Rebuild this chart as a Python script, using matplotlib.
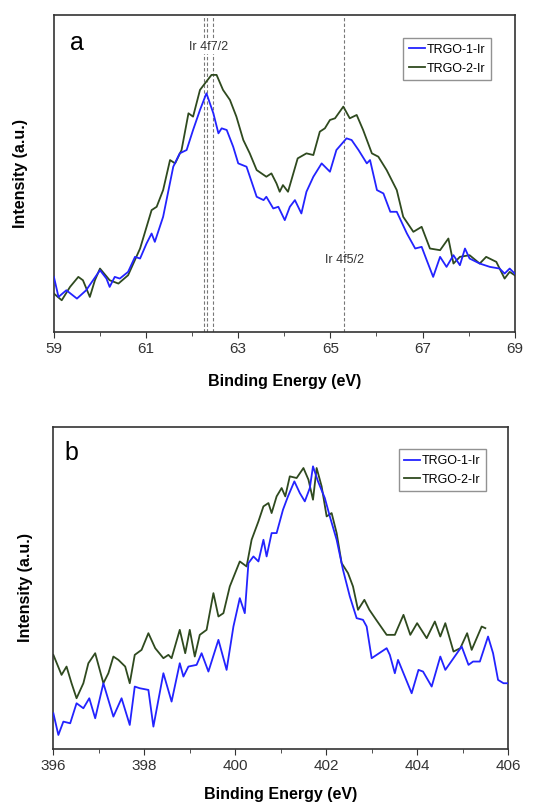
import numpy as np
import matplotlib
matplotlib.use("Agg")
import matplotlib.pyplot as plt
from matplotlib.ticker import MultipleLocator, NullLocator

# panel a: Ir 4f region
a_x1 = [59.0, 59.1, 59.27, 59.5, 59.7, 59.85, 60.0, 60.14, 60.21, 60.32, 60.43, 60.61, 60.76,
        60.87, 61.01, 61.12, 61.19, 61.37, 61.59, 61.73, 61.88, 62.02, 62.17, 62.31, 62.46,
        62.57, 62.64, 62.75, 62.89, 63.0, 63.18, 63.4, 63.55, 63.61, 63.76, 63.87, 64.01,
        64.12, 64.23, 64.37, 64.48, 64.63, 64.81, 64.99, 65.13, 65.35, 65.46, 65.61, 65.79,
        65.86, 66.01, 66.15, 66.3, 66.44, 66.66, 66.84, 66.98, 67.09, 67.23, 67.38, 67.52,
        67.67, 67.81, 67.92, 68.02, 68.24, 68.46, 68.67, 68.78, 68.89, 69.0]
a_y1 = [16.5, 10.5, 12.5, 10, 12.5, 15.5, 18.5, 16, 13.5, 16.5, 16, 18, 22.5,
        22, 26.5, 29.5, 27, 34.5, 49.5, 53.5, 54.5, 60.5, 66.5, 71.5, 65.5,
        59.5, 61, 60.5, 55.5, 50.5, 49.5, 40.5, 39.5, 40.5, 37, 37.5, 33.5,
        37.5, 39.5, 35.5, 42, 46.5, 50.5, 48, 54.5, 58, 57.5, 54.5, 50.5,
        51.5, 42.5, 41.5, 36, 36, 29.5, 25, 25.5, 21.5, 16.5, 22.5, 19.5,
        23, 20, 25, 22, 20.5, 19.5, 19, 17.5, 19, 17.5]
a_x2 = [59.0, 59.17, 59.35, 59.53, 59.63, 59.78, 59.89, 60.0, 60.21, 60.4, 60.61, 60.87,
        61.12, 61.23, 61.37, 61.52, 61.63, 61.77, 61.92, 62.02, 62.17, 62.28, 62.42, 62.53,
        62.67, 62.82, 62.96, 63.11, 63.25, 63.4, 63.61, 63.72, 63.83, 63.9, 63.97, 64.08,
        64.29, 64.48, 64.63, 64.77, 64.88, 64.99, 65.1, 65.28, 65.42, 65.57, 65.71, 65.9,
        66.04, 66.22, 66.44, 66.58, 66.8, 66.98, 67.16, 67.38, 67.56, 67.67, 67.81, 68.02,
        68.24, 68.38, 68.6, 68.78, 68.89, 69.0]
a_y2 = [11.5, 9.5, 13.5, 16.5, 15.5, 10.5, 15.5, 19, 15.5, 14.5, 17, 25,
        36.5, 37.5, 42.5, 51.5, 50.5, 54.5, 65.5, 64.5, 72.5, 74.5, 77, 77,
        72.5, 69.5, 64.5, 57.5, 53.5, 48.5, 46.5, 47.5, 44.5, 42, 44, 42,
        52, 53.5, 53, 60, 61, 63.5, 64, 67.5, 64, 65, 60.5, 53.5,
        52.5, 48.5, 42.5, 34.5, 30, 31.5, 25, 24.5, 28, 20.5, 22.5, 23,
        20.5, 22.5, 21, 16, 18, 17]
a_peaks = [62.25, 62.32, 62.45, 65.3]
a_ticks = [59, 61, 63, 65, 67, 69]

# panel b: N 1s region
b_x1 = [396.0, 396.11, 396.22, 396.37, 396.51, 396.66, 396.79, 396.92, 397.1, 397.32, 397.5,
        397.68, 397.79, 397.9, 398.09, 398.2, 398.42, 398.6, 398.78, 398.86, 398.97, 399.15,
        399.26, 399.41, 399.63, 399.81, 399.96, 400.1, 400.21, 400.29, 400.4, 400.51, 400.62,
        400.69, 400.8, 400.91, 401.05, 401.16, 401.3, 401.42, 401.53, 401.64, 401.71, 401.82,
        401.97, 402.08, 402.23, 402.37, 402.52, 402.67, 402.81, 402.89, 403.0, 403.33, 403.4,
        403.51, 403.58, 403.73, 403.88, 404.03, 404.13, 404.32, 404.51, 404.62, 404.8, 404.98,
        405.13, 405.23, 405.38, 405.56, 405.67, 405.78, 405.9, 406.0]
b_y1 = [10.7, 4.2, 8.2, 7.7, 13.7, 12.2, 15.2, 9.2, 19.7, 9.7, 15.2,
        7.2, 18.7, 18.2, 17.7, 6.7, 22.7, 14.2, 25.7, 21.7, 24.7, 25.2,
        28.7, 23.2, 32.7, 23.7, 36.7, 45.2, 40.7, 55.7, 57.7, 56.2, 62.7,
        57.7, 64.7, 64.7, 71.7, 75.7, 80.2, 76.7, 74.2, 78.2, 84.7, 80.2,
        75.2, 69.7, 62.7, 53.7, 45.7, 39.2, 38.7, 36.7, 27.2, 30.2, 28.2,
        22.7, 26.7, 21.7, 16.7, 23.7, 23.2, 18.7, 27.7, 23.7, 27.2, 30.7,
        25.2, 26.2, 26.2, 33.7, 28.7, 20.7, 19.7, 19.7]
b_x2 = [396.0, 396.18, 396.29, 396.4, 396.51, 396.66, 396.77, 396.92, 397.1, 397.21, 397.32,
        397.43, 397.58, 397.68, 397.79, 397.94, 398.09, 398.24, 398.42, 398.53, 398.6, 398.78,
        398.9, 399.0, 399.11, 399.22, 399.37, 399.52, 399.63, 399.74, 399.88, 400.1, 400.25,
        400.36, 400.51, 400.62, 400.73, 400.8, 400.91, 401.02, 401.1, 401.2, 401.35, 401.5,
        401.61, 401.71, 401.79, 401.9, 402.01, 402.12, 402.23, 402.34, 402.48, 402.59, 402.7,
        402.84, 402.95, 403.1, 403.33, 403.51, 403.7, 403.85, 404.0, 404.21, 404.39, 404.51,
        404.62, 404.8, 404.95, 405.1, 405.2, 405.42, 405.5]
b_y2 = [28.2, 22.2, 24.7, 19.7, 15.2, 19.7, 25.7, 28.7, 19.7, 22.7, 27.7,
        26.7, 24.7, 19.7, 28.2, 29.7, 34.7, 30.2, 27.2, 28.2, 27.2, 35.7,
        28.7, 35.7, 27.7, 34.2, 35.7, 46.7, 39.7, 40.7, 48.7, 56.2, 54.7,
        62.7, 68.2, 72.7, 73.7, 70.7, 75.7, 78.2, 75.7, 81.7, 81.2, 84.2,
        80.7, 74.7, 84.2, 78.7, 69.7, 70.7, 64.7, 55.7, 52.7, 48.7, 41.7,
        44.7, 41.7, 38.7, 34.2, 34.2, 40.2, 34.2, 37.7, 33.2, 38.2, 33.7,
        37.7, 29.2, 30.2, 34.7, 29.7, 36.7, 36.2]
b_ticks = [396, 398, 400, 402, 404, 406]

labels = ["TRGO-1-Ir", "TRGO-2-Ir"]
c1 = "#2323ff"
c2 = "#2f4a1f"

plt.rcParams["font.family"] = ["Liberation Sans", "DejaVu Sans"]

fig = plt.figure(figsize=(5.39, 8.05), dpi=100)
ax_a = fig.add_axes([0.100, 0.5876, 0.855, 0.394])
ax_b = fig.add_axes([0.099, 0.0696, 0.8436, 0.400])


def style(ax, ticks, ytop, ylpad, xlpad, anchor):
    ax.set_xlim(ticks[0], ticks[-1])
    ax.set_ylim(0, ytop)
    ax.set_xticks(ticks)
    ax.xaxis.set_minor_locator(MultipleLocator(1))
    ax.yaxis.set_major_locator(NullLocator())
    ax.tick_params(axis="x", which="major", direction="out", length=4, labelsize=11,
                   colors="#333333", pad=3)
    ax.tick_params(axis="x", which="minor", direction="out", length=3, colors="#333333")
    for s in ax.spines.values():
        s.set_linewidth(1.2)
        s.set_color("#333333")
    ax.set_xlabel("Binding Energy (eV)", fontsize=11.5, fontweight="bold", labelpad=xlpad)
    ax.set_ylabel("Intensity (a.u.)", fontsize=11.5, fontweight="bold", labelpad=ylpad)
    leg = ax.legend(loc="upper right", fontsize=9, handlelength=1.3, handletextpad=0.1,
                    fancybox=False, edgecolor="#777777", borderpad=0.45, labelspacing=0.55,
                    bbox_to_anchor=anchor)
    leg.get_frame().set_linewidth(1.0)


# panel a
for xp in a_peaks:
    ax_a.axvline(xp, color="#777777", lw=0.8, ls=(0, (3, 2)), zorder=1)
ax_a.plot(a_x1, a_y1, color=c1, lw=1.3, label=labels[0], zorder=3)
ax_a.plot(a_x2, a_y2, color=c2, lw=1.3, label=labels[1], zorder=2)
ax_a.text(62.35, 85.5, "Ir 4f7/2", fontsize=9, ha="center", va="center", color="#333333",
          bbox=dict(facecolor="white", edgecolor="none", pad=1), zorder=4)
ax_a.text(65.3, 21.5, "Ir 4f5/2", fontsize=9, ha="center", va="center", color="#333333",
          bbox=dict(facecolor="white", edgecolor="none", pad=1), zorder=4)
ax_a.text(59.5, 86.5, "a", fontsize=18, ha="center", va="center")
style(ax_a, a_ticks, 95, 19, 13, (0.961, 0.946))

# panel b
ax_b.plot(b_x1, b_y1, color=c1, lw=1.3, label=labels[0], zorder=3)
ax_b.plot(b_x2, b_y2, color=c2, lw=1.3, label=labels[1], zorder=2)
ax_b.text(396.4, 88.7, "b", fontsize=18, ha="center", va="center")
style(ax_b, b_ticks, 96.5, 15, 10, (0.965, 0.95))

fig.savefig("out.png", dpi=100)
